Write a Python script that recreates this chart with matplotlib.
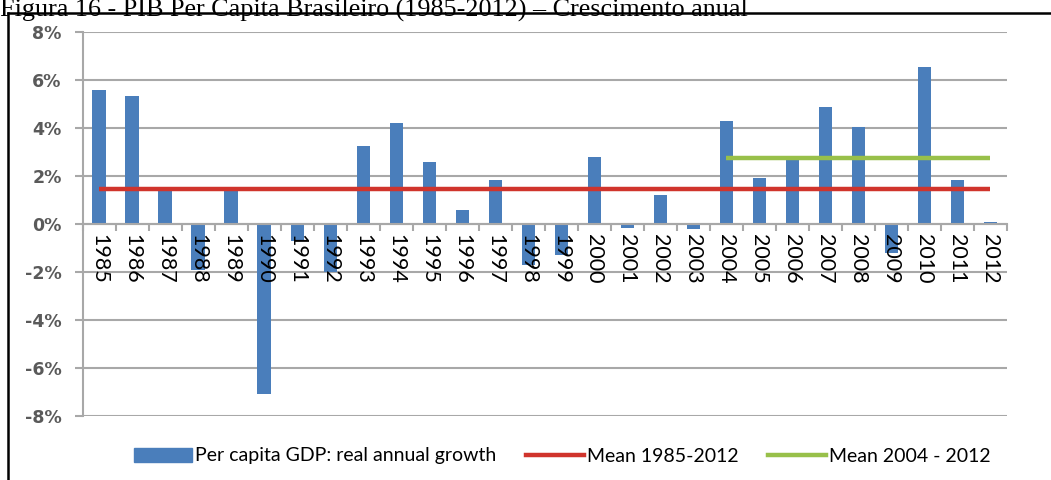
import matplotlib
matplotlib.use("Agg")
import matplotlib.pyplot as plt
from matplotlib.lines import Line2D
from matplotlib.patches import Patch
import numpy as np

# data
years = [str(y) for y in range(1985, 2013)]
growth = [5.57, 5.33, 1.50, -1.90, 1.40, -7.07, -0.70, -2.00, 3.25, 4.20,
          2.60, 0.60, 1.85, -1.70, -1.30, 2.80, -0.15, 1.20, -0.20, 4.30,
          1.90, 2.70, 4.88, 4.05, -1.20, 6.53, 1.82, 0.08]
mean_all = 1.47
mean_recent = 2.77
recent_start = "2004"
yticks = [-8, -6, -4, -2, 0, 2, 4, 6, 8]

title = "Figura 16 - PIB Per Capita Brasileiro (1985-2012) \u2013 Crescimento anual"
bar_label = "Per capita GDP: real annual growth"
red_label = "Mean 1985-2012"
green_label = "Mean 2004 - 2012"

blue = "#4a7ebb"
red = "#d0342c"
green = "#98c04a"
grid = "#a8a8a8"

fig = plt.figure(figsize=(10.51, 4.8), dpi=100)
ax = fig.add_axes([82.5 / 1051, 1 - 416 / 480, (1007 - 82.5) / 1051, 384 / 480])

# spine position first, it resets the ticks
for s in ["top", "right"]:
    ax.spines[s].set_visible(False)
ax.spines["bottom"].set_position(("data", 0))
ax.spines["bottom"].set_color(grid)
ax.spines["bottom"].set_linewidth(1.5)
ax.spines["left"].set_color(grid)
ax.spines["left"].set_linewidth(1.5)

# gridlines behind the bars, tick labels on top of them
for v in yticks:
    ax.axhline(v, color=grid, lw=1.5, zorder=0)
ax.set_axisbelow(False)

x = np.arange(len(years))
ax.bar(x, growth, width=0.4, color=blue, zorder=1)
ax.plot([x[0], x[-1]], [mean_all, mean_all], color=red, lw=3.2, zorder=3,
        solid_capstyle="butt")
i0 = years.index(recent_start)
ax.plot([x[i0], x[-1]], [mean_recent, mean_recent], color=green, lw=3.2,
        zorder=3, solid_capstyle="butt")

ax.set_xlim(-0.5, len(years) - 0.5)
ax.set_ylim(-8, 8)
ax.set_yticks(yticks)
ax.set_yticklabels([f"{v}%" for v in yticks], fontsize=12.5, color="#5a5a5a",
                   family="DejaVu Sans", fontweight="bold")

ax.set_xticks(x)
ax.set_xticklabels(years, fontsize=15.5, family="Lato", rotation=270,
                   ha="center", va="top")
ax.set_xticks(np.arange(-0.5, len(years)), minor=True)
ax.tick_params(axis="x", which="major", length=0, pad=7)
ax.tick_params(axis="x", which="minor", length=5, color=grid, width=1.5)
ax.tick_params(axis="y", length=6, color=grid, width=1.5, pad=9)

handles = [Patch(color=blue), Line2D([], [], color=red, lw=3.2),
           Line2D([], [], color=green, lw=3.2)]
fig.legend(handles, [bar_label, red_label, green_label], loc="center",
           bbox_to_anchor=(0.535, 1 - 456 / 480), ncol=3, frameon=False,
           prop={"family": "Lato", "size": 14}, handlelength=3.0,
           handletextpad=0.15, columnspacing=1.5)

# page frame and figure caption
fig.text(0.0, 1 - 17 / 480, title, family="Liberation Serif", fontsize=18.8,
         ha="left", va="baseline")
fig.add_artist(Line2D([8 / 1051, 1], [1 - 13 / 480, 1 - 13 / 480],
                      color="black", lw=1.8))
fig.add_artist(Line2D([8 / 1051, 8 / 1051], [0, 1 - 13 / 480],
                      color="black", lw=1.8))

fig.savefig("out.png", dpi=100)
